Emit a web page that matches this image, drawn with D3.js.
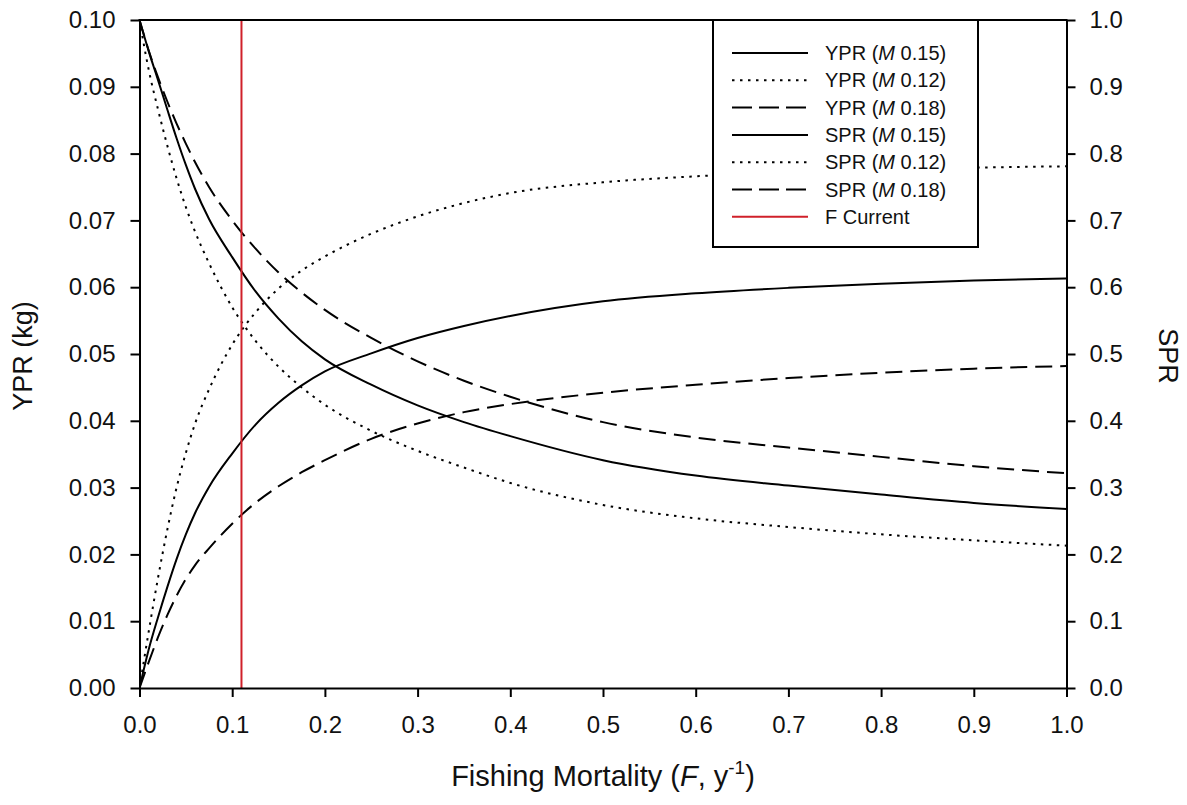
<!DOCTYPE html>
<html>
<head>
<meta charset="utf-8">
<script src="https://cdn.jsdelivr.net/npm/d3@7"></script>
<style>
  html, body { margin: 0; padding: 0; background: #fff; }
  svg text { font-family: "Liberation Sans", Arial, sans-serif; fill: #111; }
</style>
</head>
<body>
<svg id="chart" width="1187" height="805"></svg>
<script>
// Fishing mortality grid (F, per year)
const fValues = [0, 0.01, 0.02, 0.03, 0.04, 0.05, 0.06, 0.075, 0.1, 0.125, 0.15, 0.175, 0.2, 0.25, 0.3, 0.35, 0.4, 0.5, 0.6, 0.7, 0.8, 0.9, 1.0];

// Yield per recruit (kg) for three natural mortality rates
const yprM015 = [0, 0.0058, 0.0106, 0.0151, 0.0193, 0.0230, 0.0262, 0.0301, 0.0351, 0.0394, 0.0427, 0.0453, 0.0474, 0.0501, 0.0524, 0.0542, 0.0557, 0.0579, 0.0591, 0.0599, 0.0605, 0.0610, 0.0613];
const yprM012 = [0, 0.0085, 0.0165, 0.0237, 0.0300, 0.0352, 0.0396, 0.0447, 0.0514, 0.0562, 0.0598, 0.0625, 0.0646, 0.0680, 0.0706, 0.0726, 0.0741, 0.0757, 0.0766, 0.0772, 0.0776, 0.0779, 0.0781];
const yprM018 = [0, 0.0039, 0.0076, 0.0109, 0.0138, 0.0163, 0.0184, 0.0209, 0.0246, 0.0277, 0.0302, 0.0323, 0.0341, 0.0373, 0.0396, 0.0413, 0.0425, 0.0442, 0.0454, 0.0464, 0.0472, 0.0478, 0.0482];

// Spawning potential ratio for the same rates
const sprM015 = [1.0, 0.953, 0.910, 0.866, 0.823, 0.783, 0.747, 0.702, 0.645, 0.594, 0.553, 0.519, 0.492, 0.454, 0.423, 0.398, 0.377, 0.341, 0.318, 0.303, 0.2895, 0.277, 0.268];
const sprM012 = [1.0, 0.925, 0.866, 0.812, 0.763, 0.720, 0.683, 0.636, 0.570, 0.520, 0.481, 0.450, 0.424, 0.385, 0.355, 0.330, 0.307, 0.274, 0.254, 0.241, 0.230, 0.221, 0.213];
const sprM018 = [1.0, 0.954, 0.914, 0.878, 0.845, 0.815, 0.787, 0.750, 0.700, 0.658, 0.622, 0.592, 0.566, 0.524, 0.489, 0.460, 0.436, 0.398, 0.375, 0.360, 0.346, 0.332, 0.3215];

// Current fishing mortality
const fCurrent = 0.11;

// Axis ticks
const xTicks = [0, 0.1, 0.2, 0.3, 0.4, 0.5, 0.6, 0.7, 0.8, 0.9, 1.0];
const yLeftTicks = [0, 0.01, 0.02, 0.03, 0.04, 0.05, 0.06, 0.07, 0.08, 0.09, 0.10];
const yRightTicks = [0, 0.1, 0.2, 0.3, 0.4, 0.5, 0.6, 0.7, 0.8, 0.9, 1.0];

const seriesLegend = [
  { kind: "YPR", m: "0.15", style: "solid" },
  { kind: "YPR", m: "0.12", style: "dotted" },
  { kind: "YPR", m: "0.18", style: "dashed" },
  { kind: "SPR", m: "0.15", style: "solid" },
  { kind: "SPR", m: "0.12", style: "dotted" },
  { kind: "SPR", m: "0.18", style: "dashed" }
];

const svg = d3.select("#chart");
const plotLeft = 139.5, plotRight = 1066.5, plotTop = 20, plotBottom = 688;

const x = d3.scaleLinear().domain([0, 1]).range([plotLeft, plotRight]);
const yL = d3.scaleLinear().domain([0, 0.1]).range([plotBottom, plotTop]);
const yR = d3.scaleLinear().domain([0, 1]).range([plotBottom, plotTop]);

const dashFor = { solid: null, dotted: "2.5,5.5", dashed: "17,8" };

svg.append("defs").append("clipPath").attr("id", "plotClip")
  .append("rect").attr("x", plotLeft).attr("y", plotTop)
  .attr("width", plotRight - plotLeft).attr("height", plotBottom - plotTop);

const plot = svg.append("g").attr("clip-path", "url(#plotClip)");

function drawSeries(values, yScale, style) {
  const pts = fValues.map((f, i) => [f, values[i]]);
  const line = d3.line()
    .x(d => x(d[0]))
    .y(d => yScale(d[1]))
    .curve(d3.curveMonotoneX);
  plot.append("path")
    .datum(pts)
    .attr("d", line)
    .attr("fill", "none")
    .attr("stroke", "#000")
    .attr("stroke-width", 2)
    .attr("stroke-dasharray", dashFor[style]);
}

drawSeries(yprM015, yL, "solid");
drawSeries(yprM012, yL, "dotted");
drawSeries(yprM018, yL, "dashed");
drawSeries(sprM015, yR, "solid");
drawSeries(sprM012, yR, "dotted");
drawSeries(sprM018, yR, "dashed");

// F current marker
plot.append("line")
  .attr("x1", x(fCurrent)).attr("x2", x(fCurrent))
  .attr("y1", plotTop).attr("y2", plotBottom)
  .attr("stroke", "#d0202a").attr("stroke-width", 2);

// Axes
function styleAxis(g) {
  g.selectAll(".domain").attr("stroke", "#000").attr("stroke-width", 2);
  g.selectAll(".tick line").attr("stroke", "#000").attr("stroke-width", 2);
  g.selectAll(".tick text").attr("font-size", "24px").attr("fill", "#111")
    .attr("font-family", "Liberation Sans, Arial, sans-serif");
}

svg.append("g")
  .attr("transform", `translate(0,${plotBottom})`)
  .call(d3.axisBottom(x).tickValues(xTicks).tickFormat(d3.format(".1f")).tickSize(9).tickSizeOuter(0).tickPadding(19))
  .call(styleAxis);

svg.append("g")
  .attr("transform", `translate(${plotLeft},0)`)
  .call(d3.axisLeft(yL).tickValues(yLeftTicks).tickFormat(d3.format(".2f")).tickSize(9).tickSizeOuter(0).tickPadding(15))
  .call(styleAxis);

svg.append("g")
  .attr("transform", `translate(${plotRight},0)`)
  .call(d3.axisRight(yR).tickValues(yRightTicks).tickFormat(d3.format(".1f")).tickSize(9).tickSizeOuter(0).tickPadding(14))
  .call(styleAxis);

// top frame line
svg.append("line")
  .attr("x1", plotLeft - 1).attr("x2", plotRight + 1)
  .attr("y1", plotTop).attr("y2", plotTop)
  .attr("stroke", "#000").attr("stroke-width", 2);

// Axis titles
svg.append("text")
  .attr("transform", `translate(32,${(plotTop + plotBottom) / 2 + 2}) rotate(-90)`)
  .attr("text-anchor", "middle")
  .attr("font-size", "27px")
  .text("YPR (kg)");

svg.append("text")
  .attr("transform", `translate(1159,${(plotTop + plotBottom) / 2 + 2}) rotate(90)`)
  .attr("text-anchor", "middle")
  .attr("font-size", "27px")
  .text("SPR");

const xTitle = svg.append("text")
  .attr("x", (plotLeft + plotRight) / 2)
  .attr("y", 786)
  .attr("text-anchor", "middle")
  .attr("font-size", "29px");
xTitle.append("tspan").text("Fishing Mortality (");
xTitle.append("tspan").attr("font-style", "italic").text("F");
xTitle.append("tspan").text(", y");
xTitle.append("tspan").attr("font-size", "19px").attr("dy", -12).text("-1");
xTitle.append("tspan").attr("dy", 12).text(")");

// Legend
const legend = svg.append("g");
legend.append("rect")
  .attr("x", 713).attr("y", plotTop).attr("width", 265).attr("height", 227)
  .attr("fill", "#fff").attr("stroke", "#000").attr("stroke-width", 2);

const rowY = i => 53 + i * 27.3;

seriesLegend.forEach((s, i) => {
  legend.append("line")
    .attr("x1", 732).attr("x2", 808)
    .attr("y1", rowY(i)).attr("y2", rowY(i))
    .attr("stroke", "#000").attr("stroke-width", 2)
    .attr("stroke-dasharray", s.style === "dashed" ? "20,7" : dashFor[s.style]);
  const t = legend.append("text")
    .attr("x", 825).attr("y", rowY(i) + 7)
    .attr("font-size", "20px");
  t.append("tspan").text(s.kind + " (");
  t.append("tspan").attr("font-style", "italic").text("M");
  t.append("tspan").text(" " + s.m + ")");
});

legend.append("line")
  .attr("x1", 732).attr("x2", 808)
  .attr("y1", rowY(6)).attr("y2", rowY(6))
  .attr("stroke", "#d0202a").attr("stroke-width", 2);
legend.append("text")
  .attr("x", 825).attr("y", rowY(6) + 7)
  .attr("font-size", "20px")
  .text("F Current");
</script>
</body>
</html>
